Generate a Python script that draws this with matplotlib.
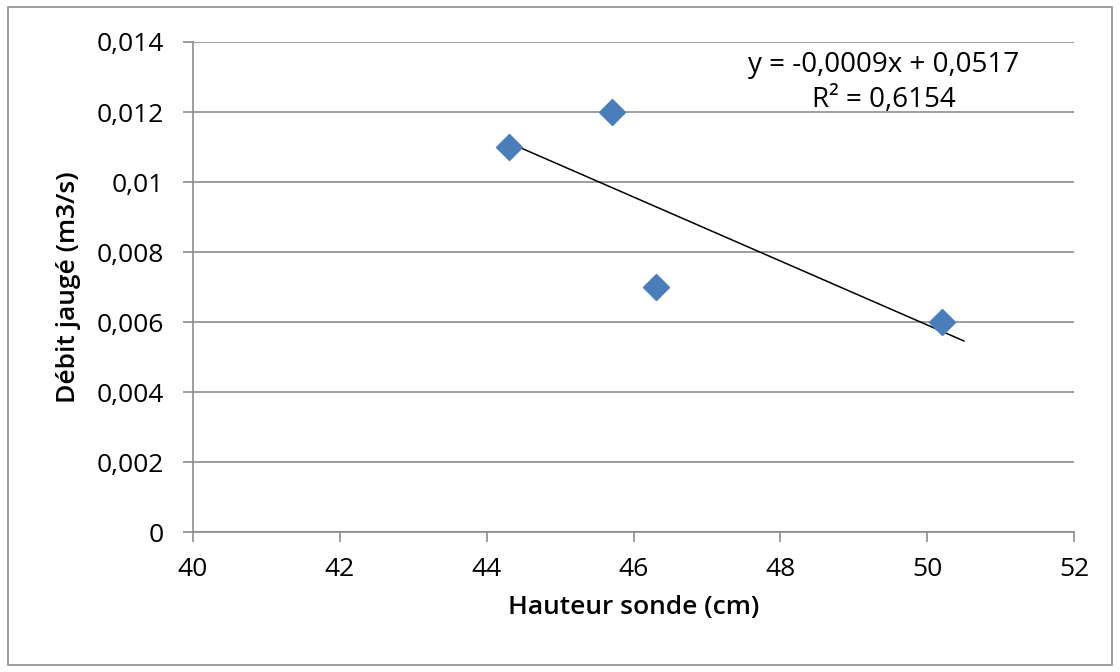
import numpy as np
import matplotlib.pyplot as plt
from matplotlib.patches import Rectangle

# Données
hauteur = [44.3, 45.7, 46.3, 50.2]        # Hauteur sonde (cm)
debit = [0.011, 0.012, 0.007, 0.006]      # Débit jaugé (m3/s)
xticks = [40, 42, 44, 46, 48, 50, 52]
yticks = [0, 0.002, 0.004, 0.006, 0.008, 0.010, 0.012, 0.014]
ylabels = ['0', '0,002', '0,004', '0,006', '0,008', '0,01', '0,012', '0,014']
eq_label = 'y = -0,0009x + 0,0517'
r2_label = 'R² = 0,6154'

plt.rcParams['font.family'] = ['Open Sans', 'DejaVu Sans']

fig = plt.figure(figsize=(11.2, 6.72), dpi=100)
ax = fig.add_axes([0.1723, 0.2083, 0.959 - 0.1723, 0.9375 - 0.2083])

# cadre du graphique
fig.patches.append(Rectangle((0.007, 0.01), 0.986, 0.98, transform=fig.transFigure,
                             fill=False, edgecolor='#8c8c8c', linewidth=1.2))

x = np.array(hauteur)
y = np.array(debit)
a, b = np.polyfit(x, y, 1)

# courbe de tendance linéaire (prolongée un peu vers l'avant comme dans Excel)
xs = np.array([x.min(), x.max() + 0.3])
ax.plot(xs, a * xs + b, color='black', linewidth=1.1, zorder=3)
ax.plot(x, y, linestyle='none', marker='D', markersize=13, color='#4a7ebb', zorder=4)

ax.set_xlim(40, 52)
ax.set_ylim(0, 0.014)
ax.set_xticks(xticks)
ax.set_yticks(yticks)
ax.set_yticklabels(ylabels)
ax.yaxis.grid(True, color='#8c8c8c', linewidth=1.2)
ax.set_axisbelow(True)
for s in ['top', 'right']:
    ax.spines[s].set_visible(False)
for s in ['left', 'bottom']:
    ax.spines[s].set_color('#8c8c8c')
    ax.spines[s].set_linewidth(1.2)
ax.tick_params(axis='both', colors='#8c8c8c', length=7, width=1.2, labelsize=19,
               labelcolor='black')
ax.tick_params(axis='x', pad=11)
ax.tick_params(axis='y', pad=14)

ax.set_xlabel('Hauteur sonde (cm)', fontsize=19, fontweight='semibold', labelpad=9,
              color='black')
ax.set_ylabel('Débit jaugé (m3/s)', fontsize=19, fontweight='semibold', labelpad=11,
              color='black')

ax.text(0.784, 0.953, eq_label, transform=ax.transAxes, ha='center', va='center',
        fontsize=20, color='black')
ax.text(0.784, 0.882, r2_label, transform=ax.transAxes, ha='center', va='center',
        fontsize=20, color='black')

fig.savefig('out.png', dpi=100)
